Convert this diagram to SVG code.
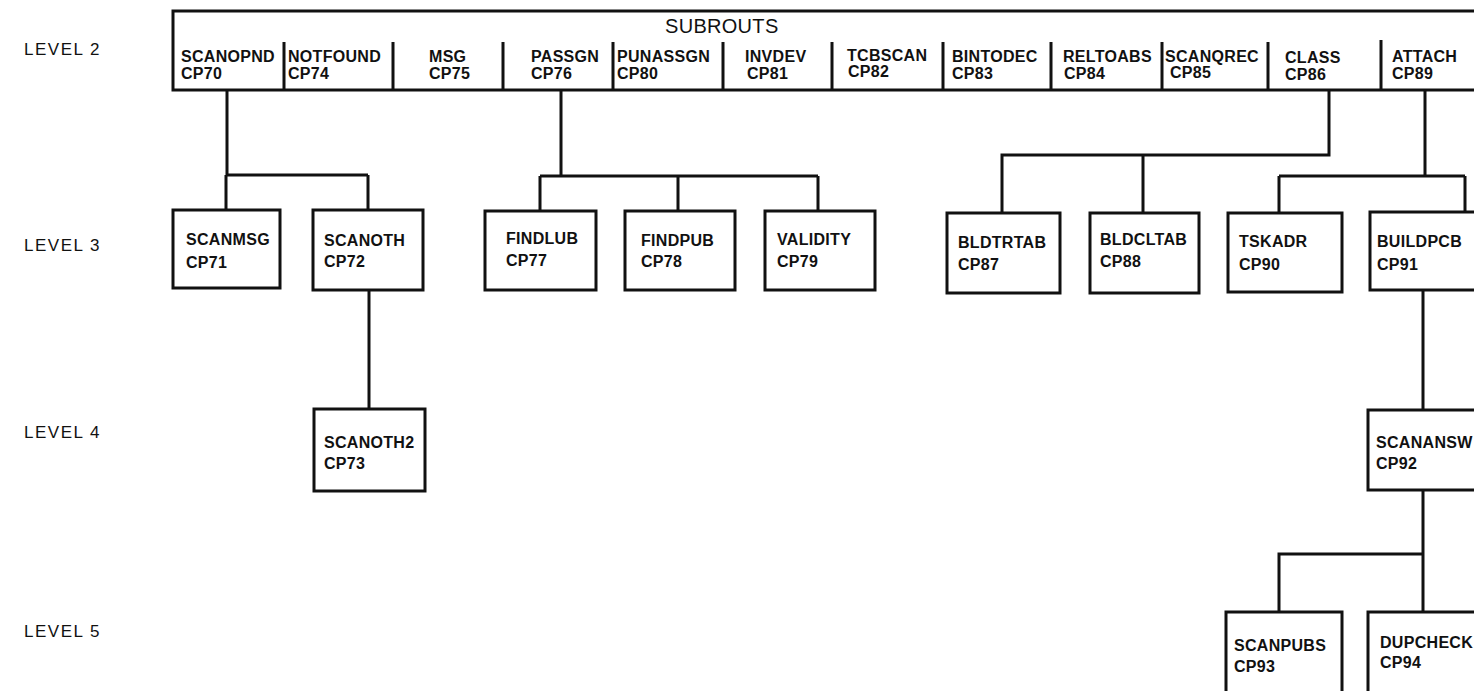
<svg xmlns="http://www.w3.org/2000/svg" width="1474" height="691" viewBox="0 0 1474 691">
<style>
.bx{fill:#fff;stroke:#111;stroke-width:3}
.ln{fill:none;stroke:#111;stroke-width:3}
.lb{font-family:"Liberation Sans",Arial,sans-serif;font-weight:bold;font-size:16px;fill:#111;letter-spacing:0.3px}
.lv{font-family:"Liberation Sans",Arial,sans-serif;font-size:17px;fill:#111;letter-spacing:1.5px}
.ti{font-family:"Liberation Sans",Arial,sans-serif;font-size:20px;fill:#111;letter-spacing:0.3px}
</style>
<rect width="1474" height="691" fill="#fff"/>
<g id="levels">
<text class="lv" x="24" y="55">LEVEL 2</text>
<text class="lv" x="24" y="251">LEVEL 3</text>
<text class="lv" x="24" y="438">LEVEL 4</text>
<text class="lv" x="24" y="637">LEVEL 5</text>
</g>
<g id="subrouts">
<rect class="bx" x="173" y="11" width="1320" height="79"/>
<text class="ti" x="665" y="33">SUBROUTS</text>
<path class="ln" d="M284 42V90M393 42V90M503 42V90M613 42V90M723 42V90M832 42V90M943 42V90M1051 42V90M1162 42V90M1268 42V90M1381 40V90"/>
<text class="lb" x="181" y="62">SCANOPND</text><text class="lb" x="181" y="79">CP70</text>
<text class="lb" x="288" y="62">NOTFOUND</text><text class="lb" x="288" y="79">CP74</text>
<text class="lb" x="429" y="62">MSG</text><text class="lb" x="429" y="79">CP75</text>
<text class="lb" x="531" y="62">PASSGN</text><text class="lb" x="531" y="79">CP76</text>
<text class="lb" x="617" y="62">PUNASSGN</text><text class="lb" x="617" y="79">CP80</text>
<text class="lb" x="745" y="62">INVDEV</text><text class="lb" x="747" y="79">CP81</text>
<text class="lb" x="847" y="61">TCBSCAN</text><text class="lb" x="848" y="77">CP82</text>
<text class="lb" x="952" y="62">BINTODEC</text><text class="lb" x="952" y="79">CP83</text>
<text class="lb" x="1063" y="62">RELTOABS</text><text class="lb" x="1064" y="79">CP84</text>
<text class="lb" x="1165" y="62">SCANQREC</text><text class="lb" x="1170" y="78">CP85</text>
<text class="lb" x="1285" y="63">CLASS</text><text class="lb" x="1285" y="80">CP86</text>
<text class="lb" x="1392" y="62">ATTACH</text><text class="lb" x="1392" y="79">CP89</text>
</g>
<g id="connectors">
<path class="ln" d="M227 90V175M226 175H368M226 175V210M368 175V210"/>
<path class="ln" d="M369 290V409"/>
<path class="ln" d="M561 90V176M540 176H818M540 176V211M678 176V211M818 176V211"/>
<path class="ln" d="M1329 90V155H1002V213M1143 155V213"/>
<path class="ln" d="M1425 90V176M1279 176H1465M1279 176V213M1465 176V212"/>
<path class="ln" d="M1423 290V410M1423 490V612M1423 554H1279V612"/>
</g>
<g id="scanmsg"><rect class="bx" x="173" y="210" width="107" height="78"/><text class="lb" x="186" y="245">SCANMSG</text><text class="lb" x="186" y="268">CP71</text></g>
<g id="scanoth"><rect class="bx" x="313" y="210" width="110" height="80"/><text class="lb" x="324" y="246">SCANOTH</text><text class="lb" x="324" y="267">CP72</text></g>
<g id="findlub"><rect class="bx" x="485" y="211" width="111" height="79"/><text class="lb" x="506" y="244">FINDLUB</text><text class="lb" x="506" y="266">CP77</text></g>
<g id="findpub"><rect class="bx" x="625" y="211" width="110" height="79"/><text class="lb" x="641" y="246">FINDPUB</text><text class="lb" x="641" y="267">CP78</text></g>
<g id="validity"><rect class="bx" x="765" y="211" width="110" height="79"/><text class="lb" x="777" y="245">VALIDITY</text><text class="lb" x="777" y="267">CP79</text></g>
<g id="bldtrtab"><rect class="bx" x="947" y="213" width="113" height="80"/><text class="lb" x="958" y="248">BLDTRTAB</text><text class="lb" x="958" y="270">CP87</text></g>
<g id="bldcltab"><rect class="bx" x="1090" y="213" width="109" height="80"/><text class="lb" x="1100" y="245">BLDCLTAB</text><text class="lb" x="1100" y="267">CP88</text></g>
<g id="tskadr"><rect class="bx" x="1228" y="213" width="114" height="79"/><text class="lb" x="1239" y="247">TSKADR</text><text class="lb" x="1239" y="270">CP90</text></g>
<g id="buildpcb"><rect class="bx" x="1370" y="212" width="120" height="78"/><text class="lb" x="1377" y="247">BUILDPCB</text><text class="lb" x="1377" y="270">CP91</text></g>
<g id="scanoth2"><rect class="bx" x="314" y="409" width="111" height="82"/><text class="lb" x="324" y="448">SCANOTH2</text><text class="lb" x="324" y="469">CP73</text></g>
<g id="scanansw"><rect class="bx" x="1368" y="410" width="120" height="80"/><text class="lb" x="1376" y="448">SCANANSW</text><text class="lb" x="1376" y="469">CP92</text></g>
<g id="scanpubs"><rect class="bx" x="1226" y="612" width="116" height="100"/><text class="lb" x="1234" y="651">SCANPUBS</text><text class="lb" x="1234" y="672">CP93</text></g>
<g id="dupcheck"><rect class="bx" x="1368" y="612" width="120" height="100"/><text class="lb" x="1380" y="648">DUPCHECK</text><text class="lb" x="1380" y="668">CP94</text></g>
</svg>
